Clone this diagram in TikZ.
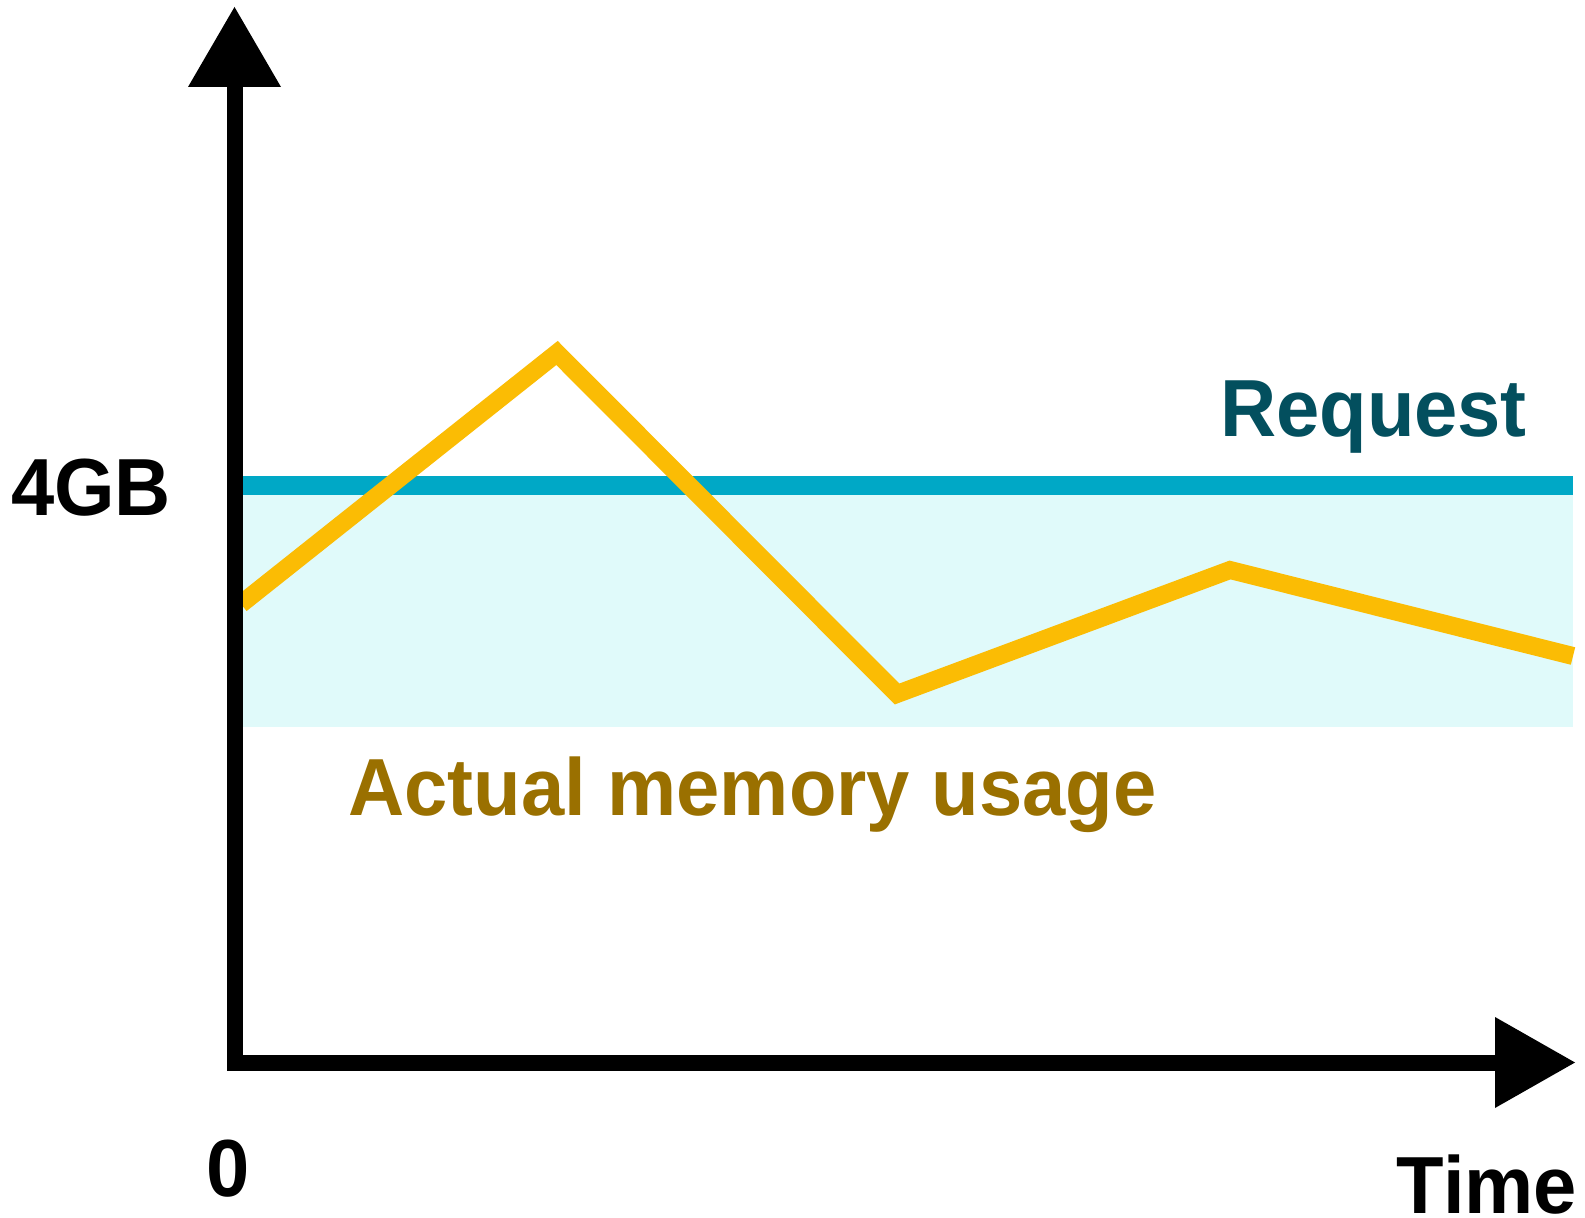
\documentclass[tikz,border=0pt]{standalone}
\usepackage{fontspec}
\setmainfont{Liberation Sans}
\definecolor{bandfill}{HTML}{E0FAFA}
\definecolor{reqline}{HTML}{00A8C6}
\definecolor{reqtext}{HTML}{034F5E}
\definecolor{usageline}{HTML}{FBBC04}
\definecolor{usagetext}{HTML}{9A7000}
\newcommand{\narrowtext}[1]{\scalebox{0.96}[1]{#1}}
\tikzset{
  lbl/.style={font=\fontsize{40.5}{44}\selectfont\bfseries, inner sep=0pt, anchor=base},
  axisline/.style={line width=8pt, line join=miter, line cap=butt},
}
\begin{document}
\begin{tikzpicture}[x=0.5pt, y=-0.5pt]
\useasboundingbox[fill=white] (0,0) rectangle (1585,1218);

% area under the request level and the request level itself
\fill[bandfill] (242,495) rectangle (1573,727);
\fill[reqline] (242,476) rectangle (1573,495);

% memory usage over time
\draw[usageline, line width=9pt, line join=miter, line cap=butt]
  (241,604) -- (557,353) -- (897,694) -- (1230,570) -- (1573,656);

% axes
\draw[axisline] (234.5,87) -- (234.5,1063) -- (1495,1063);
\fill (188,87) -- (234.5,7) -- (281,87) -- cycle;
\fill (1495,1017) -- (1575,1062.5) -- (1495,1108) -- cycle;

% labels
\node[lbl] (gb) at (91,516) {\narrowtext{4GB}};
\node[lbl] (zero) at (228,1196) {\narrowtext{0}};
\node[lbl] (time) at (1487,1213) {\narrowtext{Time}};
\node[lbl, text=reqtext] (req) at (1373.5,437) {\narrowtext{Request}};
\node[lbl, text=usagetext] (usage) at (752.5,815) {\narrowtext{Actual memory usage}};
\end{tikzpicture}
\end{document}
